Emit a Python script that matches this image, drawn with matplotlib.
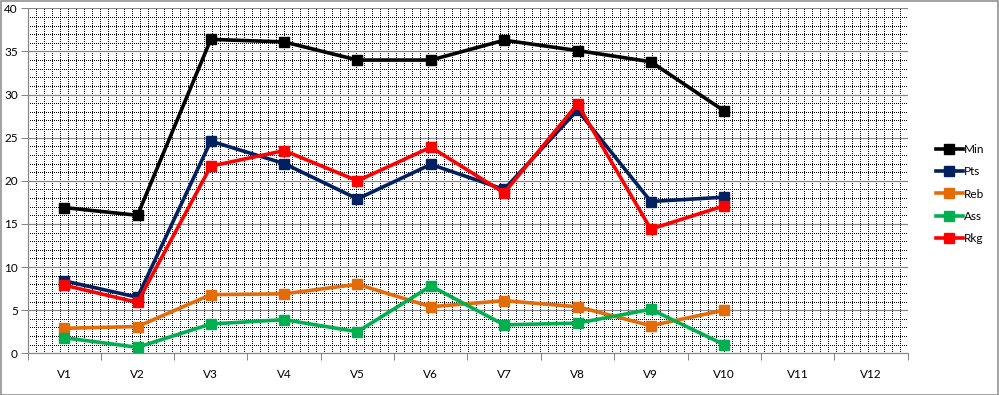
import numpy as np
import matplotlib
matplotlib.use("Agg")
import matplotlib.pyplot as plt
from matplotlib.patches import Rectangle

categories = ["V1", "V2", "V3", "V4", "V5", "V6", "V7", "V8", "V9", "V10", "V11", "V12"]

min_vals = [16.9, 16.0, 36.4, 36.1, 34.0, 34.0, 36.3, 35.1, 33.8, 28.1]
pts_vals = [8.4, 6.5, 24.6, 22.0, 17.9, 21.9, 19.0, 28.2, 17.6, 18.1]
reb_vals = [2.9, 3.1, 6.8, 6.9, 8.0, 5.4, 6.1, 5.4, 3.2, 5.0]
ass_vals = [1.8, 0.7, 3.4, 3.9, 2.5, 7.8, 3.3, 3.5, 5.1, 1.0]
rkg_vals = [7.9, 5.9, 21.7, 23.5, 20.0, 23.9, 18.6, 28.9, 14.4, 17.1]

series = [
    ("Min", min_vals, "#000000"),
    ("Pts", pts_vals, "#002060"),
    ("Reb", reb_vals, "#E36C09"),
    ("Ass", ass_vals, "#00B050"),
    ("Rkg", rkg_vals, "#FF0000"),
]

plt.rcParams['font.family'] = ['Lato', 'DejaVu Sans']

fig = plt.figure(figsize=(9.99, 3.95), dpi=100)
W, H = 999, 395
ax = fig.add_axes([27.5 / W, 1 - 353.3 / H, 880 / W, (353.3 - 8.3) / H])

n = len(categories)
ax.set_xlim(0.5, n + 0.5)
ax.set_ylim(0, 40)

# background grid pattern: dotted minor lines, gray major lines
px = 0.72
for y in range(1, 40):
    if y % 5:
        ax.axhline(y, color="black", lw=px, dashes=(1, 2), zorder=1,
                   antialiased=False)
for x in np.arange(0.5, n + 0.5, n / 110)[1:]:
    ax.axvline(x, color="black", lw=px, dashes=(1, 2), zorder=1,
               antialiased=False)
for y in range(5, 41, 5):
    ax.axhline(y, color="#868686", lw=1.2 * px, zorder=2)

xs = np.arange(1, len(min_vals) + 1)
for name, vals, color in series:
    ax.plot(xs, vals, color=color, lw=2.6, marker="s", markersize=7,
            label=name, zorder=5)

for s in ["top", "right"]:
    ax.spines[s].set_visible(False)
for s in ["left", "bottom"]:
    ax.spines[s].set_color("#868686")
    ax.spines[s].set_linewidth(1.2 * px)

ax.set_yticks(range(0, 41, 5))
ax.tick_params(axis="y", colors="#868686", length=5, width=px,
               labelcolor="black", labelsize=8.5, pad=2)

ax.set_xticks(np.arange(0.5, n + 1, 1))
ax.set_xticklabels([])
ax.set_xticks(np.arange(1, n + 1), minor=True)
ax.set_xticklabels(categories, minor=True)
ax.tick_params(axis="x", which="major", colors="#868686", length=5, width=px)
ax.tick_params(axis="x", which="minor", length=0, labelsize=8.5, pad=11,
               labelcolor="black")

leg = fig.legend(loc="center left", bbox_to_anchor=(925 / W, 1 - 194 / H),
                 frameon=False, fontsize=8.5, handlelength=2.3,
                 handletextpad=0.1, labelspacing=0.95)

fig.patches.append(Rectangle((0.5 / W, 0.5 / H), 1 - 1.5 / W, 1 - 1.5 / H,
                             transform=fig.transFigure, fill=False,
                             edgecolor="#868686", lw=1.5 * px))

fig.savefig("out.png", dpi=100)
